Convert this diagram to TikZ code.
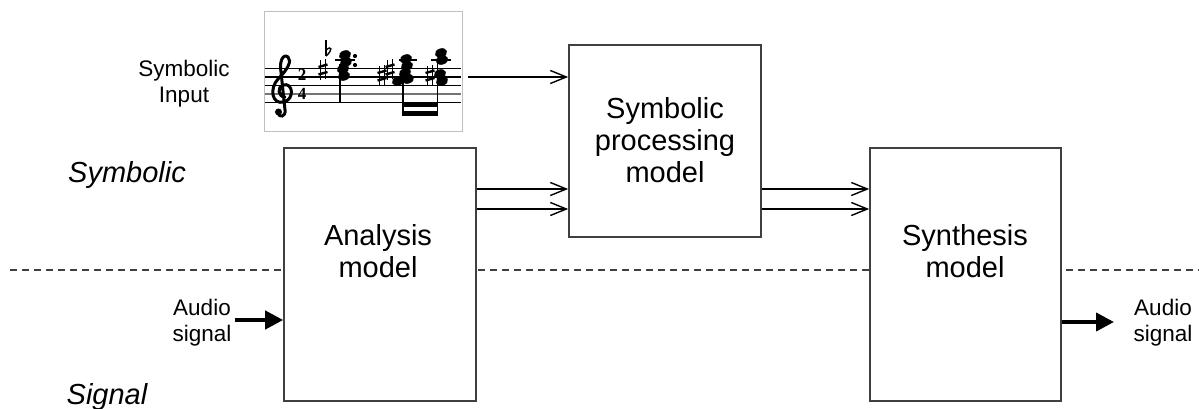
\documentclass[tikz,border=0pt]{standalone}
\usepackage{fontspec}
\setmainfont{Liberation Sans}
\newfontfamily\serifbold{Liberation Serif}
\usetikzlibrary{arrows.meta}
\begin{document}
\begin{tikzpicture}[x=1pt,y=-1pt,
  box/.style={draw=black!75, line width=1.6pt, fill=white, inner sep=0pt},
  big/.style={font=\fontsize{29}{32}\selectfont, align=center, inner sep=0pt},
  bigit/.style={font=\fontsize{29}{32}\selectfont\itshape, inner sep=0pt},
  small/.style={font=\fontsize{22.5}{26}\selectfont, align=center, inner sep=0pt},
  thinarrow/.style={line width=1.4pt, -{Straight Barb[length=16pt,width=13pt,line width=1.4pt]}},
  thickarrow/.style={line width=4pt, -{Triangle[length=18pt,width=18pt]}},
  dashline/.style={dash pattern=on 7pt off 5pt, line width=1.3pt, black!75},
  staffline/.style={line width=1.4pt},
  stemline/.style={line width=1.1pt},
  timesig/.style={font=\serifbold\bfseries\fontsize{17}{17}\selectfont, inner sep=0pt},
  sharpsym/.pic={
    \draw[line width=1.1pt] (-2.2,-10) -- (-2.2,10) (2.2,-11) -- (2.2,9);
    \draw[line width=2.4pt] (-4.5,-3) -- (4.5,-5.5) (-4.5,4.5) -- (4.5,2);
  },
  notehead/.pic={\fill[rotate=20] (0,0) ellipse (6.2 and 4.6);},
]
\useasboundingbox (0,0) rectangle (1199,409);

% dashed divider
\coordinate (dl) at (10,270);
\coordinate (dr) at (1199,270);
\draw[dashline] (dl) -- (dr);

% boxes
\node[box, minimum width=192pt, minimum height=253pt] (ana) at (380,274.5) {};
\node[box, minimum width=192pt, minimum height=192pt] (proc) at (665,141) {};
\node[box, minimum width=191pt, minimum height=253pt] (syn) at (965.5,274.5) {};
\node[draw=black!25, line width=1pt, fill=white, minimum width=198pt, minimum height=120pt, inner sep=0pt] (score) at (363,72) {};

% box texts
\node[big] (anatxt) at (378,251) {Analysis\\model};
\node[big] (proctxt) at (665,140) {Symbolic\\processing\\model};
\node[big] (syntxt) at (965,251) {Synthesis\\model};

% side labels
\node[small] (symin) at (184,84) {Symbolic\\Input};
\node[small] (ainlbl) at (202,323) {Audio\\signal};
\node[small] (aoutlbl) at (1163,323) {Audio\\signal};
\node[bigit, anchor=base] (symlbl) at (127,182) {Symbolic};
\node[bigit, anchor=base] (siglbl) at (107,404) {Signal};

% connectors
\coordinate (sa) at ([xshift=5pt,yshift=-5pt]score.east);
\draw[thinarrow] (sa) -- (sa -| proc.west);
\coordinate (a1) at (ana.east |- 0,189);
\coordinate (a2) at (ana.east |- 0,209);
\draw[thinarrow] (a1) -- (a1 -| proc.west);
\draw[thinarrow] (a2) -- (a2 -| proc.west);
\coordinate (p1) at (proc.east |- 0,189);
\coordinate (p2) at (proc.east |- 0,209);
\draw[thinarrow] (p1) -- (p1 -| syn.west);
\draw[thinarrow] (p2) -- (p2 -| syn.west);
\coordinate (ain) at (235,320);
\draw[thickarrow] (ain) -- (ain -| ana.west);
\coordinate (aout) at (1114,322);
\draw[thickarrow] (aout -| syn.east) -- (aout);

% music score
\foreach \yy in {68.5,77,85.5,102.5} \draw[staffline] (265,\yy) -- (461,\yy);
\draw[staffline, black!55] (265,94) -- (461,94);
% treble clef
\draw[line width=3pt, line cap=round] (285,97) .. controls (278,97) and (277,87) .. (283,85)
  .. controls (293,82) and (295,99) .. (284,102)
  .. controls (272,105) and (269,89) .. (278,79)
  .. controls (288,69) and (292,61) .. (288,57)
  .. controls (283,53) and (279,62) .. (281,72)
  -- (285,110) .. controls (286,117) and (279,118) .. (278,113);
\fill (278.5,112) circle (3.5);
% time signature
\node[timesig] (ts2) at (302,75) {2};
\node[timesig] (ts4) at (302,94) {4};
% accidentals chord 1
\draw[line width=1.1pt] (326,40) -- (326,56);
\draw[line width=1.4pt] (326,50) .. controls (332,45) and (333,50) .. (326,56);
\pic at (323,70) {sharpsym};
% chord 1
\draw[line width=1.4pt] (335,60) -- (355,60);
\foreach \p in {(345,55),(346,62),(343,69),(344,76)} \pic at \p {notehead};
\fill (355,56) circle (2.1) (355,65) circle (2.1);
\draw[stemline] (340,64) -- (340,102.5);
% chord 2
\pic at (382,76) {sharpsym};
\pic at (390,70) {sharpsym};
\draw[line width=1.4pt] (399,60) -- (417,60);
\foreach \p in {(406,59),(407,66),(405,73),(408,79),(398,81)} \pic at \p {notehead};
\draw[stemline] (403,72) -- (403,116);
% chord 3
\pic at (430,76) {sharpsym};
\draw[line width=1.4pt] (431,60) -- (451,60);
\foreach \p in {(441,53),(442,60),(440,74),(442,81)} \pic at \p {notehead};
\draw[stemline] (437.5,60) -- (437.5,116);
% beams
\fill (403,102.5) rectangle (438,107.5);
\fill (403,111.5) rectangle (438,116);
\end{tikzpicture}
\end{document}
